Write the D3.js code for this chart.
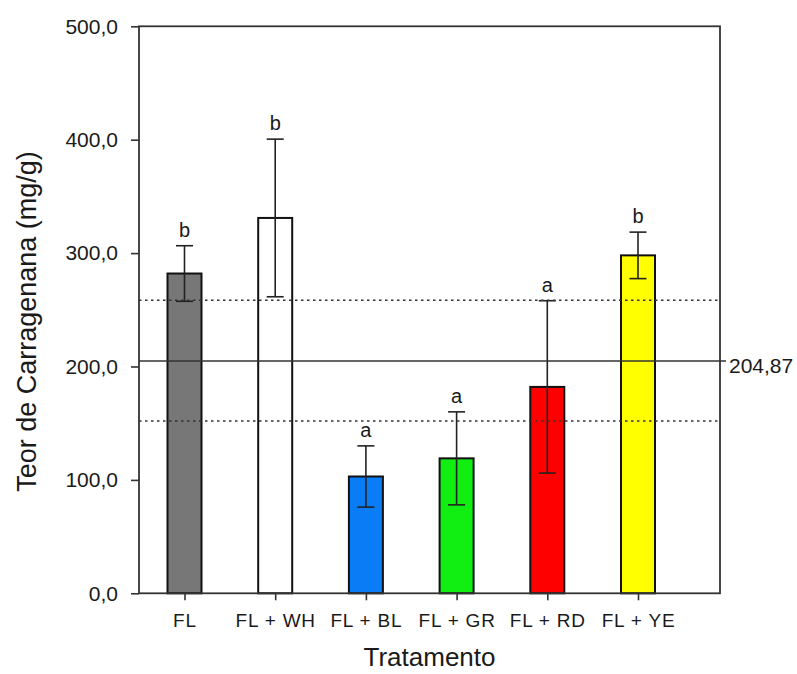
<!DOCTYPE html>
<html>
<head>
<meta charset="utf-8">
<script src="https://cdn.jsdelivr.net/npm/d3@7"></script>
<style>
  html, body { margin: 0; padding: 0; background: #fff; }
  svg { display: block; }
  text { font-family: "Liberation Sans", Arial, sans-serif; fill: #1a1a1a; }
</style>
</head>
<body>
<svg id="chart" width="797" height="674"></svg>
<script>
const categories = ["FL", "FL + WH", "FL + BL", "FL + GR", "FL + RD", "FL + YE"];
const means = [282, 331, 103, 119, 182, 298];
const errors = [24.5, 69.5, 27, 41, 76, 20.5];
const letters = ["b", "b", "a", "a", "a", "b"];
const colors = ["#777777", "#ffffff", "#0a7cf5", "#11ee11", "#ff0000", "#ffff00"];
const yTicks = [0, 100, 200, 300, 400, 500];
const refMean = 204.87;
const refUpper = 258.5;
const refLower = 152;

(function () {
const pL = 139, pR = 720, pT = 26.3, pB = 593.3;
const svg = d3.select("#chart");

const y = d3.scaleLinear().domain([0, 500]).range([pB, pT]);
const x = d3.scalePoint().domain(categories).range([pL + 45.5, pR - 82]);
const barW = 34;
const fmt = v => d3.format(".1f")(v).replace(".", ",");

// bars
svg.append("g").selectAll("rect").data(categories).join("rect")
  .attr("x", (d) => x(d) - barW / 2)
  .attr("y", (d, i) => y(means[i]))
  .attr("width", barW)
  .attr("height", (d, i) => y(0) - y(means[i]))
  .attr("fill", (d, i) => colors[i])
  .attr("stroke", "#111")
  .attr("stroke-width", 2);

// error bars
const eg = svg.append("g").attr("stroke", "#222").attr("stroke-width", 1.6);
categories.forEach((c, i) => {
  const cx = x(c), hi = y(means[i] + errors[i]), lo = y(means[i] - errors[i]);
  eg.append("line").attr("x1", cx).attr("x2", cx).attr("y1", hi).attr("y2", lo);
  eg.append("line").attr("x1", cx - 8.5).attr("x2", cx + 8.5).attr("y1", hi).attr("y2", hi);
  eg.append("line").attr("x1", cx - 8.5).attr("x2", cx + 8.5).attr("y1", lo).attr("y2", lo);
});

// letters
svg.append("g").selectAll("text").data(categories).join("text")
  .attr("x", d => x(d))
  .attr("y", (d, i) => y(means[i] + errors[i]) - 9)
  .attr("text-anchor", "middle")
  .attr("font-size", 20)
  .text((d, i) => letters[i]);

// reference lines
svg.append("line").attr("x1", pL).attr("x2", pR + 6)
  .attr("y1", y(refMean)).attr("y2", y(refMean))
  .attr("stroke", "#333").attr("stroke-width", 1.6);
[refUpper, refLower].forEach(v => {
  svg.append("line").attr("x1", pL).attr("x2", pR)
    .attr("y1", y(v)).attr("y2", y(v))
    .attr("stroke", "#333").attr("stroke-width", 1.5)
    .attr("stroke-dasharray", "2.5,3.5");
});
svg.append("text").attr("x", pR + 9).attr("y", y(refMean) + 12)
  .attr("font-size", 21).text(d3.format(".2f")(refMean).replace(".", ","));

// frame
svg.append("rect").attr("x", pL).attr("y", pT)
  .attr("width", pR - pL).attr("height", pB - pT)
  .attr("fill", "none").attr("stroke", "#333").attr("stroke-width", 1.8);

// y axis
const ya = svg.append("g").attr("transform", `translate(${pL},0)`)
  .call(d3.axisLeft(y).tickValues(yTicks).tickFormat(fmt).tickSize(8).tickPadding(13));
ya.select(".domain").remove();
ya.selectAll("line").attr("stroke", "#333").attr("stroke-width", 1.6);
ya.selectAll("text").attr("font-size", 21).attr("fill", "#1a1a1a")
  .attr("font-family", "Liberation Sans, Arial, sans-serif");

// x axis
const xa = svg.append("g").attr("transform", `translate(0,${pB})`)
  .call(d3.axisBottom(x).tickSize(7).tickPadding(13));
xa.select(".domain").remove();
xa.selectAll("line").attr("stroke", "#333").attr("stroke-width", 1.6);
xa.selectAll("text").attr("font-size", 19).attr("fill", "#1a1a1a")
  .attr("font-family", "Liberation Sans, Arial, sans-serif")
  .style("letter-spacing", "0.8px");

// titles
svg.append("text").attr("x", (pL + pR) / 2).attr("y", 666)
  .attr("text-anchor", "middle").attr("font-size", 26).text("Tratamento");
svg.append("text")
  .attr("transform", `translate(36,321.5) rotate(-90)`)
  .attr("text-anchor", "middle").attr("font-size", 27).text("Teor de Carragenana (mg/g)");
})();
</script>
</body>
</html>
